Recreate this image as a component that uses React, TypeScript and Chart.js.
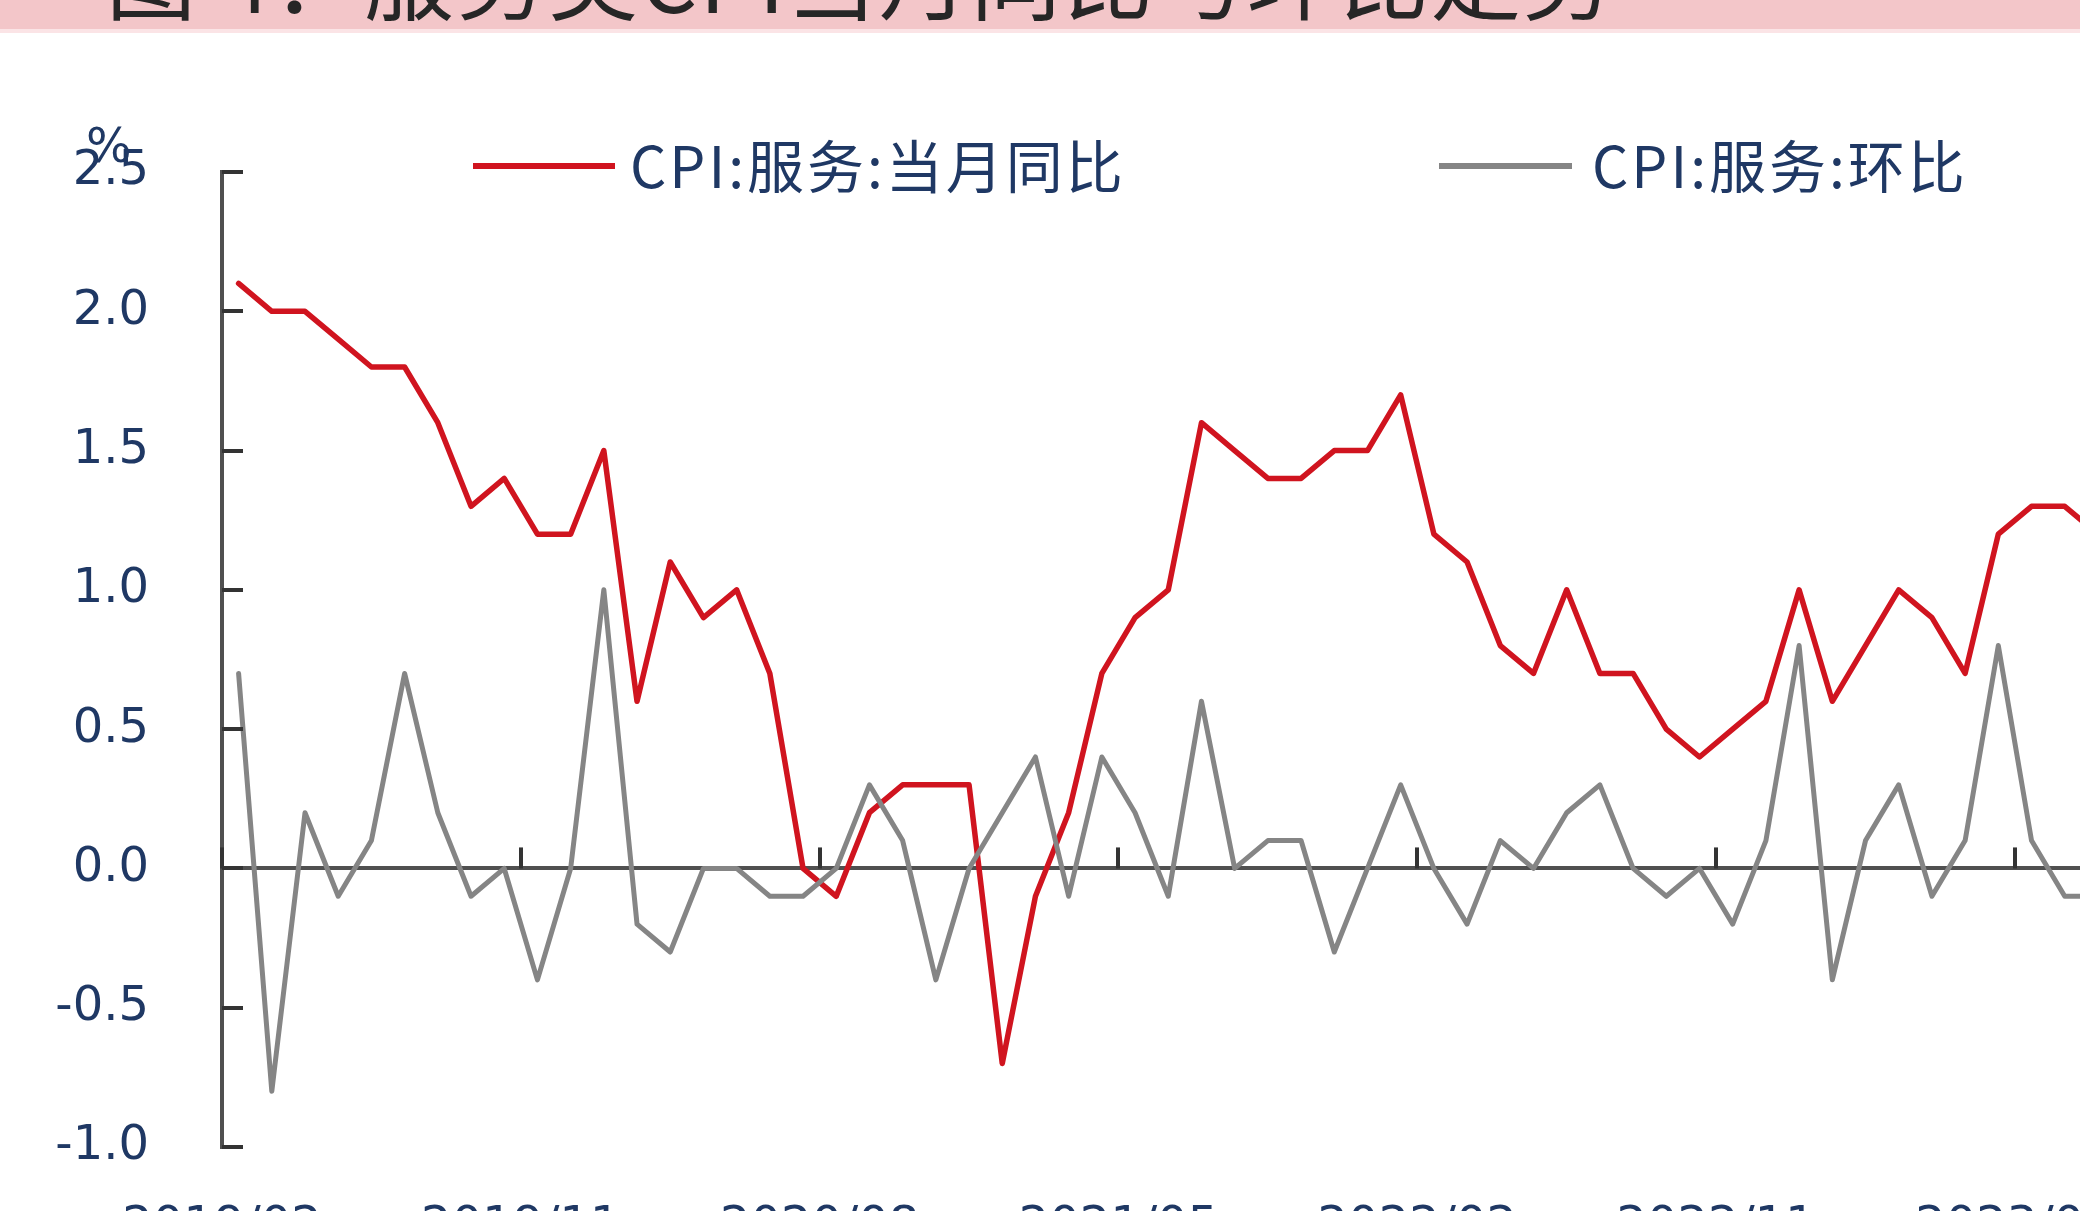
import React, { useEffect, useRef } from "react";
import { Chart, registerables } from "chart.js";

Chart.register(...registerables);

// ---- data ----
const START_YEAR = 2019;
const START_MONTH = 2;

// CPI:服务:当月同比 (%)
const YOY = [
  2.1, 2.0, 2.0, 1.9, 1.8, 1.8, 1.6, 1.3, 1.4, 1.2,
  1.2, 1.5, 0.6, 1.1, 0.9, 1.0, 0.7, 0.0, -0.1, 0.2,
  0.3, 0.3, 0.3, -0.7, -0.1, 0.2, 0.7, 0.9, 1.0, 1.6,
  1.5, 1.4, 1.4, 1.5, 1.5, 1.7, 1.2, 1.1, 0.8, 0.7,
  1.0, 0.7, 0.7, 0.5, 0.4, 0.5, 0.6, 1.0, 0.6, 0.8,
  1.0, 0.9, 0.7, 1.2, 1.3, 1.3, 1.2,
];

// CPI:服务:环比 (%)
const MOM = [
  0.7, -0.8, 0.2, -0.1, 0.1, 0.7, 0.2, -0.1, 0.0, -0.4,
  0.0, 1.0, -0.2, -0.3, 0.0, 0.0, -0.1, -0.1, 0.0, 0.3,
  0.1, -0.4, 0.0, 0.2, 0.4, -0.1, 0.4, 0.2, -0.1, 0.6,
  0.0, 0.1, 0.1, -0.3, 0.0, 0.3, 0.0, -0.2, 0.1, 0.0,
  0.2, 0.3, 0.0, -0.1, 0.0, -0.2, 0.1, 0.8, -0.4, 0.1,
  0.3, -0.1, 0.1, 0.8, 0.1, -0.1, -0.1,
];

const X_TICK_LABELS = ["2019/02", "2019/11", "2020/08", "2021/05", "2022/02", "2022/11", "2023/08"];
const Y_MIN = -1.0;
const Y_MAX = 2.5;
const Y_STEP = 0.5;
const LEGEND_LABELS = ["CPI:服务:当月同比", "CPI:服务:环比"];
const UNIT_LABEL = "%";
const TITLE = "图 4：服务类CPI当月同比与环比走势";

// ---- derived ----
const MONTHS = YOY.map((_, i) => {
  const m0 = START_MONTH - 1 + i;
  const y = START_YEAR + Math.floor(m0 / 12);
  const m = (m0 % 12) + 1;
  return `${y}/${m < 10 ? "0" + m : m}`;
});
const X_TICK_POS = X_TICK_LABELS.map((l) => MONTHS.indexOf(l) - 0.5);

// ---- styles ----
const W = 2080;
const H = 1300;
const VIEW_H = 1211;
const RED = "#D0141F";
const GRAY = "#858585";
const NAVY = "#1F3864";
const AXIS = "#505050";
const TICK_FONT = '48px "DejaVu Sans"';
const CJK_FONT = '57px "Noto Sans CJK SC"';

export default function App() {
  const ref = useRef<HTMLCanvasElement | null>(null);

  useEffect(() => {
    const canvas = ref.current;
    if (!canvas) return;

    const decor = {
      id: "decor",
      beforeDraw(chart: any) {
        const ctx = chart.ctx;
        ctx.save();
        ctx.fillStyle = "#ffffff";
        ctx.fillRect(0, 0, chart.width, chart.height);
        // pink title band (cropped)
        ctx.fillStyle = "#FBE4E6";
        ctx.fillRect(0, 0, chart.width, 33);
        ctx.fillStyle = "#F3C6C9";
        ctx.fillRect(0, 0, chart.width, 29);
        ctx.beginPath();
        ctx.rect(0, 0, chart.width, 29);
        ctx.clip();
        ctx.fillStyle = "#262626";
        ctx.font = '90px "Noto Sans CJK SC"';
        ctx.textBaseline = "alphabetic";
        ctx.textAlign = "left";
        (ctx as any).letterSpacing = "2px";
        ctx.fillText(TITLE, 106, 13);
        ctx.restore();
      },
      afterDraw(chart: any) {
        const ctx = chart.ctx;
        const xs = chart.scales.x;
        const ys = chart.scales.y;
        const area = chart.chartArea;
        ctx.save();
        ctx.strokeStyle = "#333333";
        ctx.lineWidth = 4;
        ctx.lineCap = "butt";
        // inner ticks on y axis
        for (let v = Y_MIN; v <= Y_MAX + 1e-9; v += Y_STEP) {
          const py = Math.round(ys.getPixelForValue(v));
          ctx.beginPath();
          ctx.moveTo(area.left, py);
          ctx.lineTo(area.left + 21, py);
          ctx.stroke();
        }
        // ticks on the zero line
        const y0 = ys.getPixelForValue(0);
        X_TICK_POS.forEach((p) => {
          const px = Math.round(xs.getPixelForValue(p));
          ctx.beginPath();
          ctx.moveTo(px, y0);
          ctx.lineTo(px, y0 - 21);
          ctx.stroke();
        });
        // unit label
        ctx.fillStyle = NAVY;
        ctx.font = TICK_FONT;
        ctx.textAlign = "left";
        ctx.textBaseline = "alphabetic";
        ctx.fillText(UNIT_LABEL, 86, 162);
        // legend
        const items = [
          { color: RED, width: 6, x0: 473, x1: 615, tx: 630 },
          { color: GRAY, width: 6, x0: 1439, x1: 1572, tx: 1592 },
        ];
        const ly = 166;
        items.forEach((it, i) => {
          ctx.strokeStyle = it.color;
          ctx.lineWidth = it.width;
          ctx.beginPath();
          ctx.moveTo(it.x0, ly);
          ctx.lineTo(it.x1, ly);
          ctx.stroke();
          ctx.fillStyle = NAVY;
          ctx.font = CJK_FONT;
          ctx.textBaseline = "middle";
          (ctx as any).letterSpacing = "3px";
          ctx.fillText(LEGEND_LABELS[i], it.tx, ly);
        });
        ctx.restore();
      },
    };

    const chart = new Chart(canvas, {
      type: "line",
      data: {
        datasets: [
          {
            label: LEGEND_LABELS[0],
            data: YOY.map((v, i) => ({ x: i, y: v })),
            borderColor: RED,
            borderWidth: 5.5,
            pointRadius: 0,
            tension: 0,
            borderJoinStyle: "round",
            borderCapStyle: "round",
            order: 1,
          },
          {
            label: LEGEND_LABELS[1],
            data: MOM.map((v, i) => ({ x: i, y: v })),
            borderColor: GRAY,
            borderWidth: 5,
            pointRadius: 0,
            tension: 0,
            borderJoinStyle: "round",
            borderCapStyle: "round",
            order: 0,
          },
        ],
      },
      options: {
        responsive: false,
        devicePixelRatio: 1,
        animation: false,
        events: [],
        layout: { padding: { top: 172, left: 0, right: 0, bottom: 0 } },
        plugins: {
          legend: { display: false },
          tooltip: { enabled: false },
          title: { display: false },
        },
        scales: {
          x: {
            type: "linear",
            position: "bottom",
            min: -0.5,
            max: 55.46,
            grid: { display: false, drawTicks: false, tickLength: 0 },
            border: { display: false },
            afterBuildTicks: (scale: any) => {
              scale.ticks = X_TICK_POS.map((v) => ({ value: v }));
            },
            afterFit: (scale: any) => {
              scale.height = H - 1147;
              scale.paddingLeft = 0;
              scale.paddingRight = 0;
            },
            ticks: {
              autoSkip: false,
              maxRotation: 0,
              minRotation: 0,
              padding: 52,
              color: NAVY,
              font: { family: "DejaVu Sans", size: 48 },
              callback: (_v: any, i: number) => X_TICK_LABELS[i],
            },
          },
          y: {
            type: "linear",
            position: "left",
            min: Y_MIN,
            max: Y_MAX,
            afterFit: (scale: any) => {
              scale.width = 222;
            },
            grid: {
              display: true,
              drawTicks: false,
              tickLength: 0,
              lineWidth: 4,
              color: (c: any) => (c.tick && Math.abs(c.tick.value) < 1e-9 ? AXIS : "rgba(0,0,0,0)"),
            },
            border: { display: true, color: AXIS, width: 4 },
            ticks: {
              stepSize: Y_STEP,
              padding: 73,
              color: NAVY,
              font: { family: "DejaVu Sans", size: 48 },
              callback: (v: any) => Number(v).toFixed(1),
            },
          },
        },
      },
      plugins: [decor],
    } as any);

    return () => chart.destroy();
  }, []);

  return (
    <div
      style={{
        position: "absolute",
        left: 0,
        top: 0,
        width: W,
        height: VIEW_H,
        overflow: "hidden",
        background: "#ffffff",
      }}
    >
      <canvas ref={ref} width={W} height={H} style={{ display: "block", width: W, height: H }} />
    </div>
  );
}
